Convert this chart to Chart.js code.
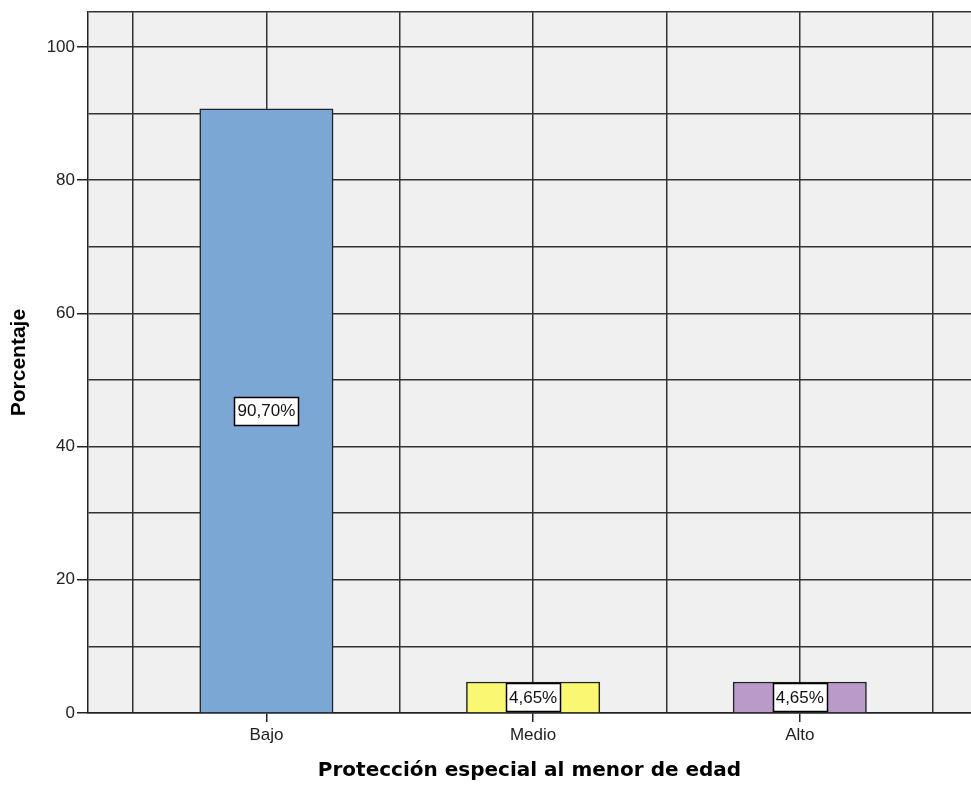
<!DOCTYPE html>
<html>
<head>
<meta charset="utf-8">
<script src="https://cdn.jsdelivr.net/npm/chart.js@4/dist/chart.umd.min.js"></script>
<style>
  body { margin: 0; background: #fff; }
  canvas { display: block; }
</style>
</head>
<body>
<canvas id="grafico" width="971" height="785"></canvas>
<script>
/* Datos del grafico */
const categorias = ['Bajo', 'Medio', 'Alto'];
const posiciones = [1, 2, 3];
const porcentajes = [90.70, 4.65, 4.65];
const colores = ['#7BA7D5', '#FAF872', '#B99AC9'];
const ticksY = [0, 20, 40, 60, 80, 100];
const lineasX = [0.5, 1, 1.5, 2, 2.5, 3, 3.5];

// fondo gris del area de trazado
const fondoPlugin = {
  id: 'fondo',
  beforeDraw(chart) {
    const a = chart.chartArea;
    const ctx = chart.ctx;
    ctx.save();
    ctx.fillStyle = '#F0F0F0';
    ctx.fillRect(a.left, a.top, a.right - a.left, a.bottom - a.top);
    ctx.restore();
  }
};

// etiquetas con caja blanca en el centro de cada barra
const etiquetasPlugin = {
  id: 'etiquetas',
  afterDatasetsDraw(chart) {
    const ctx = chart.ctx;
    const meta = chart.getDatasetMeta(0);
    ctx.save();
    ctx.font = '17px "Liberation Sans", Arial, sans-serif';
    ctx.textAlign = 'center';
    ctx.textBaseline = 'middle';
    meta.data.forEach((bar, i) => {
      const texto = porcentajes[i].toFixed(2).replace('.', ',') + '%';
      const w = Math.round(ctx.measureText(texto).width + 6);
      const h = 28;
      const cy = (bar.y + bar.base) / 2;
      const x0 = Math.round(bar.x - w / 2) + 0.5;
      const y0 = Math.round(cy - h / 2) + 0.5;
      ctx.fillStyle = '#fff';
      ctx.fillRect(x0, y0, w, h);
      ctx.strokeStyle = '#000';
      ctx.lineWidth = 1.5;
      ctx.strokeRect(x0, y0, w, h);
      ctx.fillStyle = '#111';
      ctx.fillText(texto, bar.x, cy + 1);
    });
    ctx.restore();
  }
};

const chart = new Chart(document.getElementById('grafico').getContext('2d'), {
  type: 'bar',
  data: {
    datasets: [{
      data: posiciones.map((p, i) => ({ x: p, y: porcentajes[i] })),
      backgroundColor: colores,
      borderColor: '#222',
      borderWidth: 1.5,
      categoryPercentage: 1.0,
      barPercentage: 1.0
    }]
  },
  options: {
    responsive: false,
    animation: false,
    layout: { padding: { top: 12, right: 0, left: 0, bottom: 0 } },
    plugins: {
      legend: { display: false },
      tooltip: { enabled: false }
    },
    scales: {
      x: {
        type: 'linear',
        offset: false,
        min: 0.331,
        max: 3.642,
        afterFit: (s) => { s.height = 72; s.paddingRight = 0; s.paddingLeft = 0; },
        afterBuildTicks: (s) => { s.ticks = lineasX.map((v) => ({ value: v })); },
        ticks: {
          autoSkip: false,
          maxRotation: 0,
          padding: 3,
          color: '#222',
          font: { family: '"Liberation Sans", Arial, sans-serif', size: 17 },
          callback: (v) => {
            const k = posiciones.indexOf(v);
            return k >= 0 ? categorias[k] : '';
          }
        },
        grid: {
          offset: false,
          color: '#333',
          lineWidth: 1.5,
          tickLength: 9,
          tickColor: (c) => (c.tick && posiciones.includes(c.tick.value)) ? '#222' : 'rgba(0,0,0,0)'
        },
        border: { color: '#222', width: 1.5 },
        title: {
          display: true,
          text: 'Protección especial al menor de edad',
          color: '#000',
          font: { family: '"DejaVu Sans", Verdana, sans-serif', size: 20, weight: 'bold' },
          padding: { top: 0, bottom: 2 }
        }
      },
      y: {
        min: 0,
        max: 105.2,
        afterFit: (s) => { s.width = 88; },
        ticks: {
          stepSize: 10,
          autoSkip: false,
          padding: 2,
          color: '#222',
          font: { family: '"Liberation Sans", Arial, sans-serif', size: 17 },
          callback: (v) => ticksY.includes(v) ? String(v) : ''
        },
        grid: {
          color: '#333',
          lineWidth: 1.5,
          tickLength: 11,
          tickColor: (c) => (c.tick && ticksY.includes(c.tick.value)) ? '#222' : 'rgba(0,0,0,0)'
        },
        border: { color: '#222', width: 1.5 },
        title: {
          display: true,
          text: 'Porcentaje',
          color: '#000',
          font: { family: '"Liberation Sans", Arial, sans-serif', size: 21, weight: 'bold' },
          padding: { top: 7, bottom: 0 }
        }
      }
    }
  },
  plugins: [fondoPlugin, etiquetasPlugin]
});
</script>
</body>
</html>
